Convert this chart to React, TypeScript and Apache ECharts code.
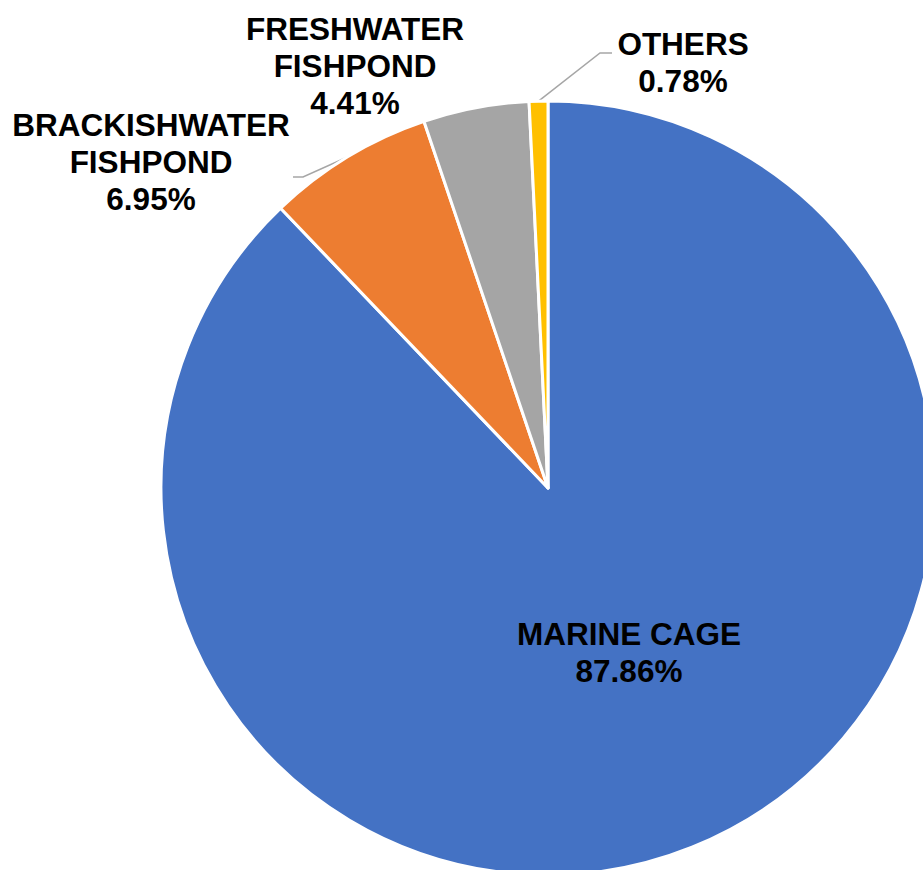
import React, { useEffect, useRef } from 'react';
import * as echarts from 'echarts';

// Share of production by culture environment (%)
const categories = ['MARINE CAGE', 'BRACKISHWATER\nFISHPOND', 'FRESHWATER\nFISHPOND', 'OTHERS'];
const shares = [87.86, 6.95, 4.41, 0.78];
const sliceColors = ['#4472C4', '#ED7D31', '#A5A5A5', '#FFC000'];

// Where each label block sits, and the bend/end of its leader line (null = no leader)
const labelSpots: { x: number; y: number; leader: number[][] | null }[] = [
  { x: 629, y: 652, leader: null },
  { x: 151, y: 162, leader: [[303, 177], [293, 177]] },
  { x: 355, y: 66, leader: null },
  { x: 683, y: 62, leader: [[600, 53], [612, 53]] },
];

export default function App() {
  const ref = useRef<HTMLDivElement>(null);

  useEffect(() => {
    if (!ref.current) return;
    const chart = echarts.init(ref.current, undefined, { renderer: 'svg' });
    chart.setOption({
      animation: false,
      backgroundColor: '#ffffff',
      series: [
        {
          type: 'pie',
          center: [548, 488],
          radius: 387,
          startAngle: 90,
          clockwise: true,
          avoidLabelOverlap: false,
          silent: true,
          itemStyle: { borderColor: '#ffffff', borderWidth: 3 },
          label: {
            show: true,
            position: 'outside',
            color: '#000000',
            fontFamily: '"Liberation Sans", Arial, sans-serif',
            fontWeight: 'bold',
            fontSize: 31.5,
            lineHeight: 37,
            align: 'center',
            formatter: (p: any) => `${p.name}\n${Number(p.value).toFixed(2)}%`,
          },
          labelLine: {
            show: true,
            length: 10,
            length2: 10,
            smooth: false,
            lineStyle: { color: '#A6A6A6', width: 1.5 },
          },
          labelLayout: (params: any) => {
            const spot = labelSpots[params.dataIndex];
            const out: any = {
              x: spot.x,
              y: spot.y,
              align: 'center',
              verticalAlign: 'middle',
            };
            if (spot.leader && params.labelLinePoints) {
              out.labelLinePoints = [params.labelLinePoints[0], ...spot.leader];
            }
            return out;
          },
          data: categories.map((name, i) => ({
            name,
            value: shares[i],
            itemStyle: { color: sliceColors[i] },
            label: i === 0 ? { position: 'inside' } : {},
            labelLine: { show: !!labelSpots[i].leader },
          })),
        },
      ],
    });
    return () => chart.dispose();
  }, []);

  return (
    <div
      ref={ref}
      style={{ position: 'fixed', left: 0, top: 0, width: 923, height: 870 }}
    />
  );
}
